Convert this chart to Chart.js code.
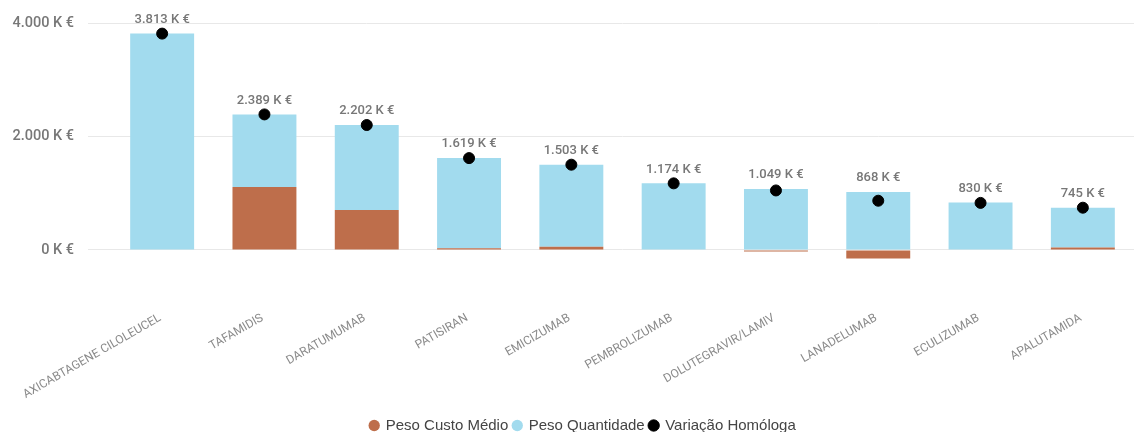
<!DOCTYPE html>
<html>
<head>
<meta charset="utf-8">
<script src="https://cdn.jsdelivr.net/npm/chart.js@4"></script>
<style>
  body { margin: 0; background: #fff; }
  #box { width: 1146px; height: 432px; position: relative; }
</style>
</head>
<body>
<div id="box"><canvas id="c"></canvas></div>
<script>
const categories = [
  "AXICABTAGENE CILOLEUCEL", "TAFAMIDIS", "DARATUMUMAB", "PATISIRAN", "EMICIZUMAB",
  "PEMBROLIZUMAB", "DOLUTEGRAVIR/LAMIV", "LANADELUMAB", "ECULIZUMAB", "APALUTAMIDA"
];
// K €
const pesoCustoMedio = [0, 1110, 704, 30, 55, 10, -26, -152, -8, 45];
const pesoQuantidade = [3813, 1279, 1498, 1589, 1448, 1164, 1075, 1020, 838, 700];
const variacaoHomologa = [3813, 2389, 2202, 1619, 1503, 1174, 1049, 868, 830, 745];
const yTicks = [0, 2000, 4000];

const brown = "#BE6E4B";
const blue = "#A2DBEE";

function fmtK(v) {
  const s = Math.round(v).toString().replace(/\B(?=(\d{3})+(?!\d))/g, ".");
  return s + " K €";
}

// value labels above the black dots (and above the bar top when it is higher)
const valueLabels = {
  id: "valueLabels",
  afterDatasetsDraw(chart) {
    const ctx = chart.ctx;
    const y = chart.scales.y;
    const dots = chart.getDatasetMeta(2);
    ctx.save();
    ctx.font = "500 13px Roboto";
    ctx.fillStyle = "#777";
    ctx.textAlign = "center";
    ctx.textBaseline = "middle";
    dots.data.forEach((pt, i) => {
      const top = pesoQuantidade[i] + Math.max(pesoCustoMedio[i], 0);
      const yy = Math.min(pt.y, y.getPixelForValue(top)) - 14;
      ctx.fillText(fmtK(variacaoHomologa[i]), pt.x, yy);
    });
    ctx.restore();
  }
};

// push the legend lower and a little to the right
const legendMove = {
  id: "legendMove",
  afterLayout(chart) {
    chart.legend.top += 11;
    chart.legend.bottom += 11;
    chart.legend.left += 16;
    chart.legend.right += 16;
  }
};

const data = {
  labels: categories,
  datasets: [
    {
      label: "Peso Custo Médio",
      data: pesoCustoMedio,
      backgroundColor: brown,
      stack: "s",
      order: 1
    },
    {
      label: "Peso Quantidade",
      data: pesoQuantidade,
      backgroundColor: blue,
      stack: "s",
      order: 1
    },
    {
      type: "line",
      label: "Variação Homóloga",
      data: variacaoHomologa,
      showLine: false,
      pointRadius: 5.5,
      pointHoverRadius: 5.5,
      pointBackgroundColor: "#000",
      pointBorderColor: "#000",
      backgroundColor: "#000",
      borderColor: "#000",
      stack: "dots",
      order: 0
    }
  ]
};

const config = {
  type: "bar",
  data,
  options: {
    responsive: true,
    maintainAspectRatio: false,
    animation: false,
    barPercentage: 0.625,
    categoryPercentage: 1,
    layout: { padding: { top: 23, right: 12, left: 0, bottom: 0 } },
    plugins: {
      tooltip: { enabled: false },
      legend: {
        position: "bottom",
        labels: {
          usePointStyle: true,
          pointStyle: "circle",
          boxWidth: 8,
          boxHeight: 8,
          padding: 5,
          color: "#444",
          font: { family: "Liberation Sans", size: 15 },
          sort: (a, b) => a.datasetIndex - b.datasetIndex
        }
      }
    },
    scales: {
      x: {
        stacked: true,
        grid: { display: false, drawTicks: false },
        border: { display: false },
        ticks: {
          autoSkip: false,
          minRotation: 30,
          maxRotation: 30,
          padding: 44,
          labelOffset: -2,
          color: "#8a8a8a",
          font: { family: "Roboto", size: 12 }
        },
        afterFit(scale) {
          const ch = scale.chart;
          scale.height = ch.height - 267 - ch.legend.height;
          scale.paddingLeft = 0;
          scale.paddingRight = 0;
        }
      },
      y: {
        stacked: true,
        min: -300,
        max: 4000,
        afterBuildTicks(scale) { scale.ticks = yTicks.map(v => ({ value: v })); },
        grid: { color: "#e8e8e8", tickLength: 23, tickColor: "#e8e8e8" },
        border: { display: false },
        ticks: {
          padding: 14,
          color: "#777",
          font: { family: "Roboto", size: 14.5, weight: "500" },
          callback: v => fmtK(v)
        },
        afterFit(scale) { scale.width = 111; }
      }
    }
  },
  plugins: [valueLabels, legendMove]
};

const myChart = new Chart(document.getElementById("c"), config);
</script>
</body>
</html>
